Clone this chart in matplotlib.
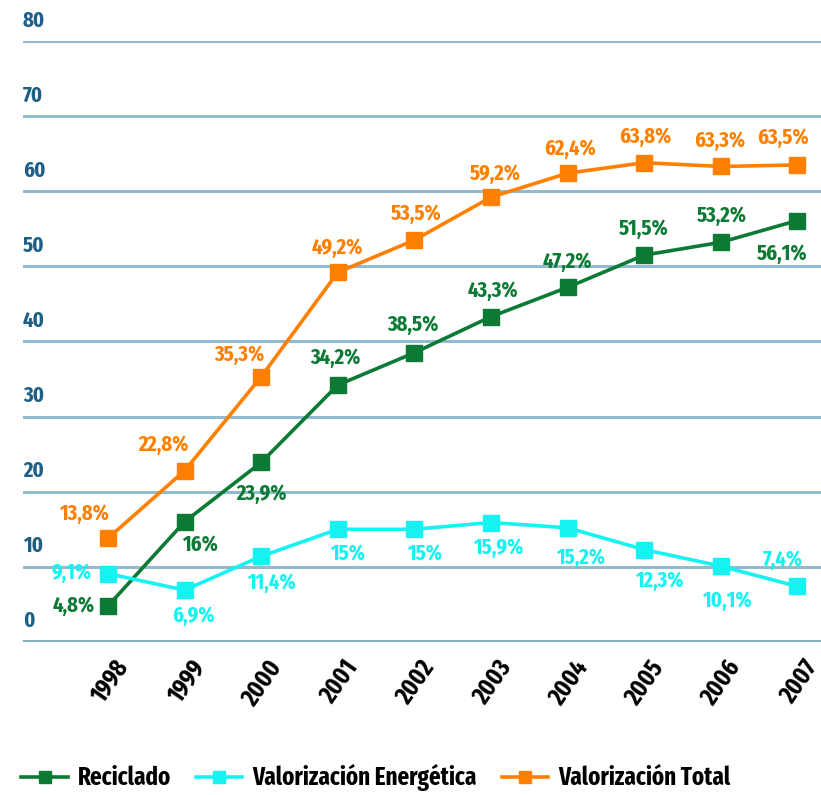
import numpy as np
import matplotlib
matplotlib.use('Agg')
import matplotlib.pyplot as plt
import matplotlib.transforms as mtransforms

plt.rcParams['font.family'] = ['Fira Sans Extra Condensed', 'DejaVu Sans']
plt.rcParams['font.weight'] = 'bold'

years = [1998, 1999, 2000, 2001, 2002, 2003, 2004, 2005, 2006, 2007]
reciclado = [4.8, 16, 23.9, 34.2, 38.5, 43.3, 47.2, 51.5, 53.2, 56.1]
energetica = [9.1, 6.9, 11.4, 15, 15, 15.9, 15.2, 12.3, 10.1, 7.4]
total = [13.8, 22.8, 35.3, 49.2, 53.5, 59.2, 62.4, 63.8, 63.3, 63.5]
lab_rec = ['4,8%', '16%', '23,9%', '34,2%', '38,5%', '43,3%', '47,2%', '51,5%', '53,2%', '56,1%']
lab_ene = ['9,1%', '6,9%', '11,4%', '15%', '15%', '15,9%', '15,2%', '12,3%', '10,1%', '7,4%']
lab_tot = ['13,8%', '22,8%', '35,3%', '49,2%', '53,5%', '59,2%', '62,4%', '63,8%', '63,3%', '63,5%']

# label offsets in pixels (dx, dy) from each marker
off_rec = [(-34, 0), (15, -24), (0, -31), (-2, 27), (-1, 28), (2, 26), (0, 26), (0, 26), (1, 27), (-15, -33)]
off_ene = [(-36, 1), (9, -26), (10, -27), (10, -25), (10, -25), (7, -25), (13, -30), (15, -31), (6, -35), (-14, 27)]
off_tot = [(-24, 24), (-21, 26), (-22, 22), (0, 25), (2, 26), (4, 23), (2, 24), (1, 26), (-1, 26), (-14, 27)]

c_rec = '#0b7a35'
c_ene = '#14f2f2'
c_tot = '#ff8000'

fig = plt.figure(figsize=(8.21, 7.95), dpi=100)
ax = fig.add_axes([0.028, 0.1925, 0.972, 0.7559])

for v in range(10, 90, 10):
    ax.axhline(v, color='#93bacd', lw=2.2, zorder=1)
ax.axhline(0, color='#7fa9c0', lw=3.5, zorder=1)

for vals, labs, offs, col, name in [(reciclado, lab_rec, off_rec, c_rec, 'Reciclado'),
                                    (energetica, lab_ene, off_ene, c_ene, u'Valorización Energética'),
                                    (total, lab_tot, off_tot, c_tot, u'Valorización Total')]:
    ax.plot(years, vals, color=col, lw=2.6, marker='s', ms=11, label=name, zorder=3)
    for x, y, t, (dx, dy) in zip(years, vals, labs, offs):
        ax.annotate(t, (x, y), xytext=(dx, dy), textcoords='offset pixels',
                    ha='center', va='center', color=col, fontsize=16, fontweight='bold', zorder=4)

ax.set_xlim(1996.89, 2007.31)
ax.set_ylim(0, 80)
for s in ax.spines.values():
    s.set_visible(False)
ax.set_yticks([])
ax.set_xticks(years)
ax.set_xticklabels([])
ax.tick_params(length=0)

# y labels sit above their gridline
trans = mtransforms.blended_transform_factory(ax.transAxes, ax.transData)
for v in range(0, 90, 10):
    ax.annotate(str(v), (0, v), xycoords=trans, xytext=(0, 10), textcoords='offset pixels',
                ha='left', va='bottom', color='#1d5f87', fontsize=16, fontweight='bold',
                annotation_clip=False)

xtrans = mtransforms.blended_transform_factory(ax.transData, ax.transAxes)
for yr in years:
    ax.annotate(str(yr), (yr, 0), xycoords=xtrans, xytext=(5, -14), textcoords='offset pixels',
                ha='right', va='top', rotation=55, rotation_mode='anchor', color='black',
                fontsize=18, fontweight='bold', annotation_clip=False)

leg = ax.legend(loc='center left', bbox_to_anchor=(-0.002, -0.226), ncol=3, frameon=False,
                fontsize=18, handlelength=1.85, columnspacing=1.0, handletextpad=0.4,
                borderaxespad=0, borderpad=0)
for h in leg.legend_handles:
    h.set_markersize(8)

fig.savefig('out.png', dpi=100)
